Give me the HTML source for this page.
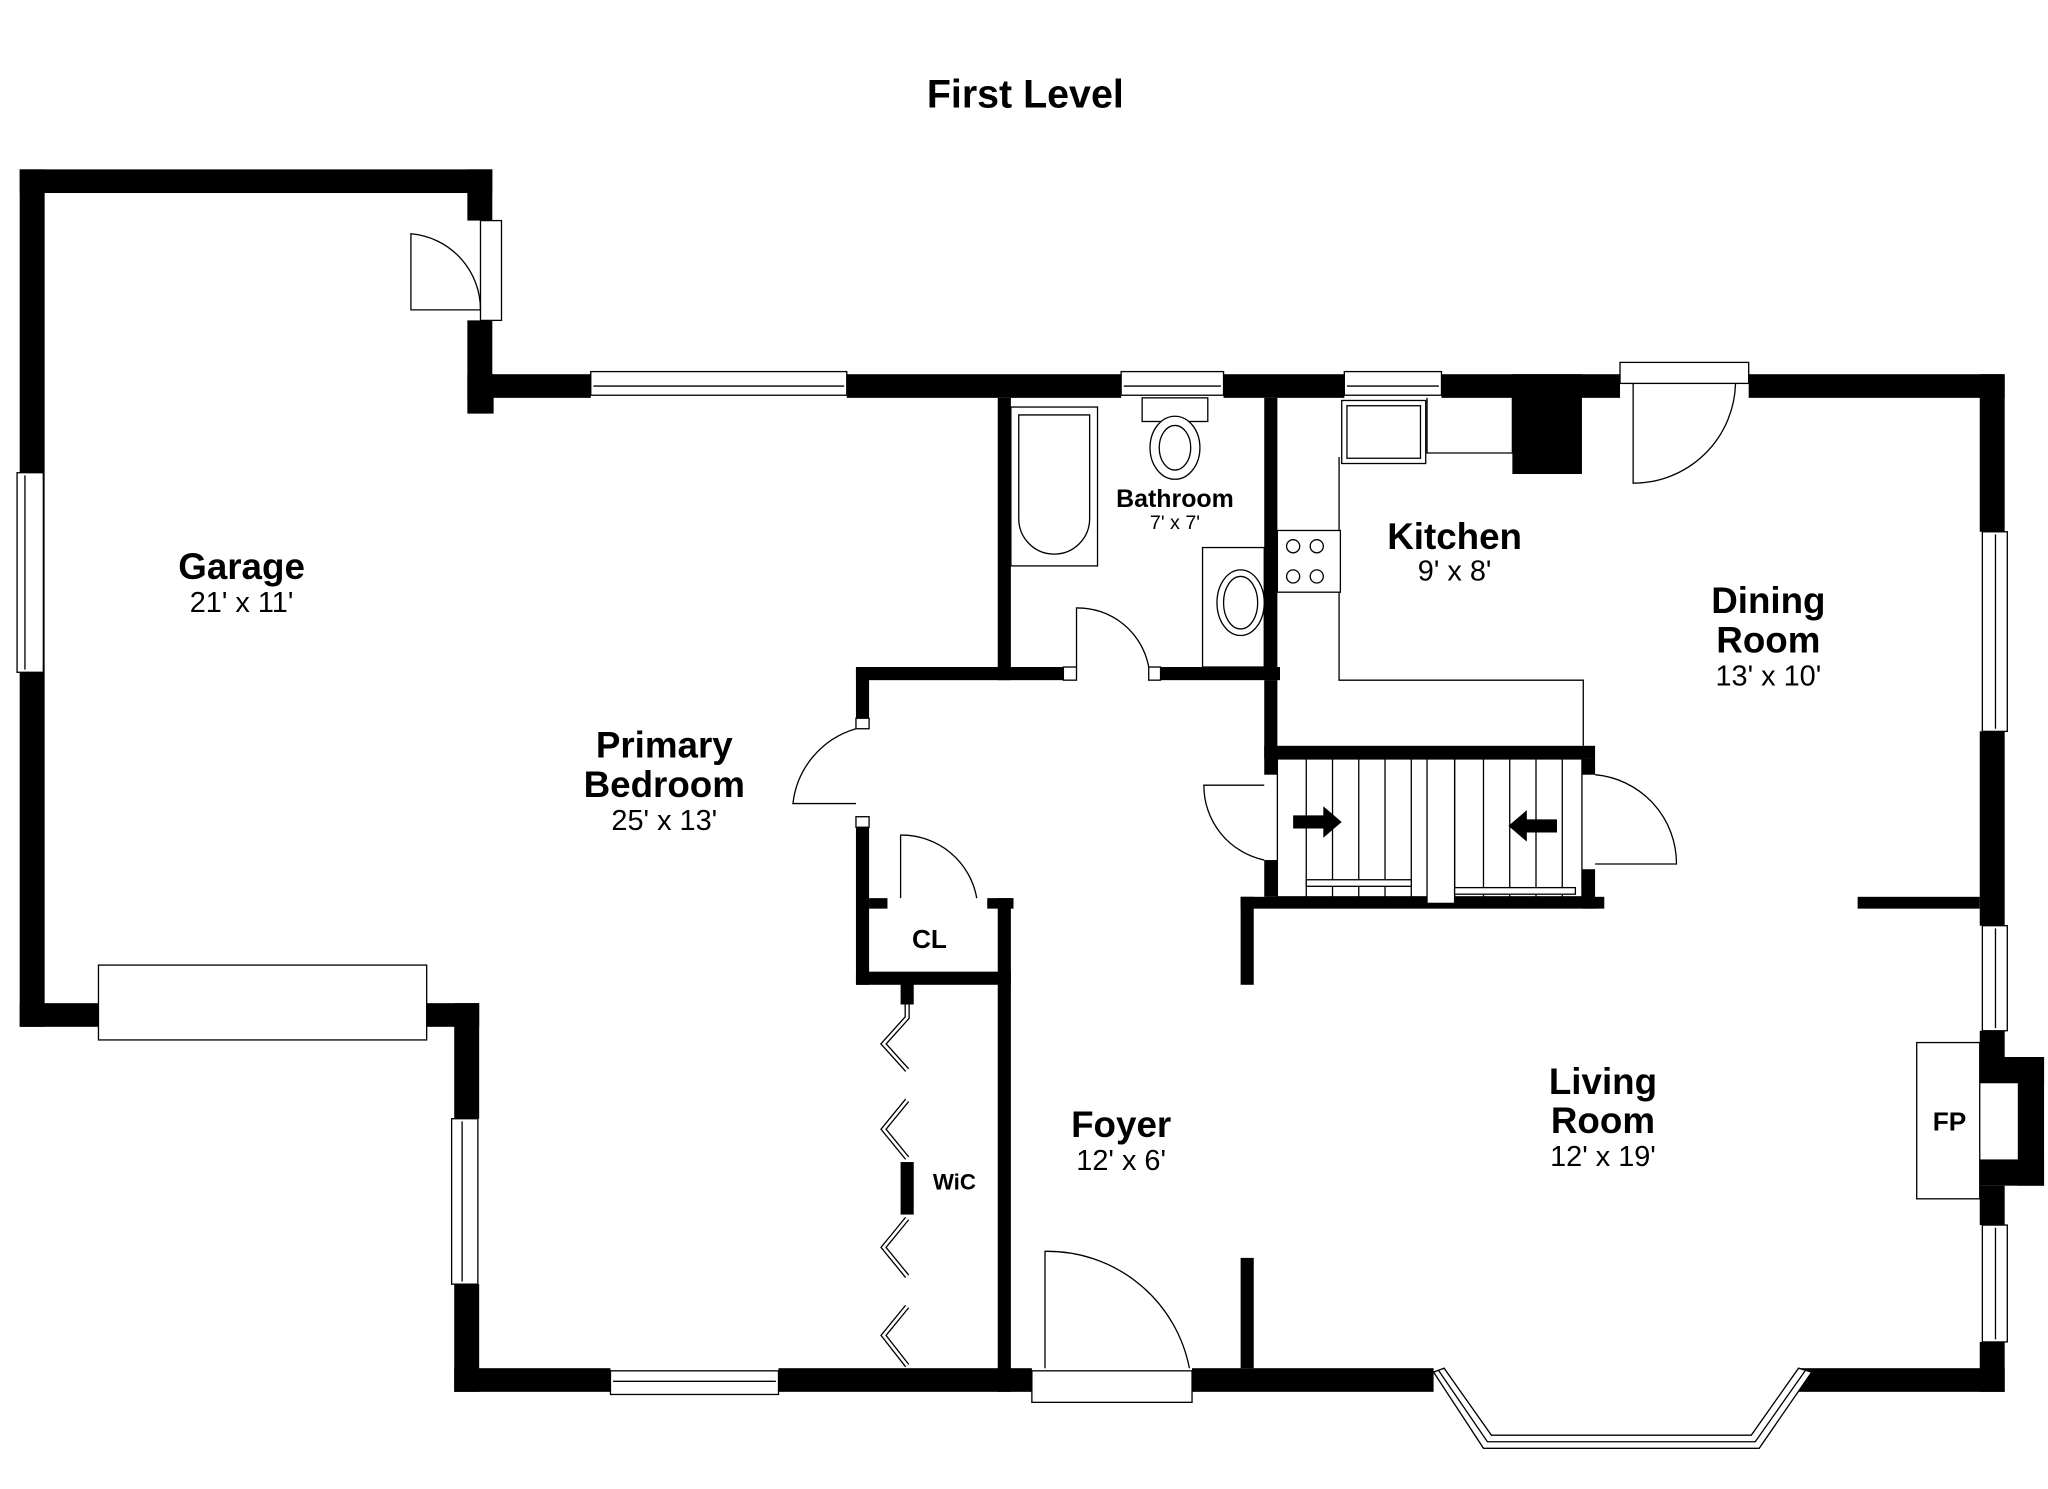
<!DOCTYPE html>
<html><head><meta charset="utf-8"><style>
html,body{margin:0;padding:0;background:#fff;}
svg{display:block;}
text{font-family:"Liberation Sans",Arial,sans-serif;fill:#000;text-anchor:middle;}
.t{font-weight:bold;font-size:28px;}
.d{font-size:22px;}
</style></head><body>
<svg width="2048" height="1489" viewBox="0 0 1560 1134" preserveAspectRatio="none" xmlns="http://www.w3.org/2000/svg">
<rect width="1560" height="1134" fill="#fff"/>
<text x="781" y="82" style="font-weight:bold;font-size:30px">First Level</text>
<g fill="#000">
<!-- garage -->
<rect x="15" y="129" width="360" height="18"/>
<rect x="15" y="129" width="19" height="653"/>
<rect x="356" y="129" width="19" height="39"/>
<rect x="356" y="244" width="19" height="60"/>
<rect x="15" y="764" width="60" height="18"/>
<rect x="325" y="764" width="40" height="18"/>
<!-- main outer -->
<rect x="346" y="764" width="19" height="88"/>
<rect x="346" y="978" width="19" height="82"/>
<rect x="356" y="285" width="20" height="30"/>
<rect x="365" y="285" width="85" height="18"/>
<rect x="645" y="285" width="209" height="18"/>
<rect x="932" y="285" width="92" height="18"/>
<rect x="1098" y="285" width="136" height="18"/>
<rect x="1152" y="285" width="53" height="76"/>
<rect x="1332" y="285" width="195" height="18"/>
<rect x="1508" y="285" width="19" height="120"/>
<rect x="1508" y="557" width="19" height="148"/>
<rect x="1508" y="785" width="19" height="20"/>
<rect x="1508" y="805" width="49" height="20"/>
<rect x="1537" y="805" width="20" height="98"/>
<rect x="1508" y="883" width="49" height="20"/>
<rect x="1508" y="903" width="19" height="30"/>
<rect x="1508" y="1022" width="19" height="38"/>
<rect x="346" y="1042" width="119" height="18"/>
<rect x="593" y="1042" width="193" height="18"/>
<rect x="908" y="1042" width="184" height="18"/>
<rect x="1370" y="1042" width="157" height="18"/>
<!-- interior -->
<rect x="760" y="303" width="10" height="215"/>
<rect x="652" y="508" width="158" height="10"/>
<rect x="884" y="508" width="91" height="10"/>
<rect x="652" y="508" width="10" height="47"/>
<rect x="652" y="622" width="10" height="128"/>
<rect x="652" y="740" width="118" height="10"/>
<rect x="662" y="684" width="14" height="8"/>
<rect x="752" y="684" width="20" height="8"/>
<rect x="760" y="684" width="10" height="376"/>
<rect x="963" y="303" width="10" height="215"/>
<rect x="963" y="518" width="10" height="72"/>
<rect x="963" y="568" width="252" height="10"/>
<rect x="1205" y="578" width="10" height="12"/>
<rect x="963" y="655" width="10" height="28"/>
<rect x="1205" y="662" width="10" height="30"/>
<rect x="945" y="683" width="277" height="9"/>
<rect x="945" y="683" width="10" height="67"/>
<rect x="1415" y="683" width="93" height="9"/>
<rect x="945" y="958" width="10" height="84"/>
<rect x="686" y="745" width="10" height="20"/>
<rect x="686" y="885" width="10" height="40"/>
</g>
<g fill="#fff" stroke="#000" stroke-width="1">
<!-- windows -->
<rect x="13" y="360" width="20" height="152"/>
<line x1="19" y1="362" x2="19" y2="510"/>
<rect x="450" y="283" width="195" height="18"/>
<line x1="452" y1="294" x2="643" y2="294"/>
<rect x="854" y="283" width="78" height="18"/>
<line x1="856" y1="294" x2="930" y2="294"/>
<rect x="1024" y="283" width="74" height="18"/>
<line x1="1026" y1="294" x2="1096" y2="294"/>
<rect x="1510" y="405" width="19" height="152"/>
<line x1="1520" y1="407" x2="1520" y2="555"/>
<rect x="1510" y="705" width="19" height="80"/>
<line x1="1520" y1="707" x2="1520" y2="783"/>
<rect x="1510" y="933" width="19" height="89"/>
<line x1="1520" y1="935" x2="1520" y2="1020"/>
<rect x="344" y="852" width="20" height="126"/>
<line x1="352" y1="854" x2="352" y2="976"/>
<rect x="465" y="1044" width="128" height="18"/>
<line x1="467" y1="1052" x2="591" y2="1052"/>
<!-- garage door -->
<rect x="75" y="735" width="250" height="57"/>
<!-- garage side door -->
<rect x="366" y="168" width="16" height="76"/>
<path d="M366 236 L313 236 L313 178 A58 58 0 0 1 366 236" fill="none"/>
<!-- front door -->
<rect x="786" y="1044" width="122" height="24"/>
<path d="M796 1042 L796 953 A110 110 0 0 1 906 1042" fill="none"/>
<!-- dining door -->
<rect x="1234" y="276" width="98" height="16"/>
<path d="M1244 292 L1244 368 A78 78 0 0 0 1322 292" fill="none"/>
<!-- bay window -->
<polygon points="1092,1045 1130,1103 1340,1103 1380,1045 1370,1042 1334,1093 1136,1093 1100,1042"/>
<polyline points="1096,1044 1133,1098 1337,1098 1375,1044" fill="none"/>
<!-- FP -->
<rect x="1460" y="794" width="48" height="119"/>
<!-- bath fixtures -->
<rect x="770" y="310" width="66" height="121"/>
<path d="M776 316 L830 316 L830 395 A27 27 0 0 1 776 395 Z"/>
<rect x="870" y="303" width="50" height="18"/>
<ellipse cx="895" cy="341" rx="19" ry="24"/>
<ellipse cx="895" cy="341" rx="12" ry="17"/>
<rect x="916" y="417" width="47" height="91"/>
<ellipse cx="945" cy="459" rx="18" ry="25"/>
<ellipse cx="945" cy="459" rx="13" ry="20"/>
<!-- bath door -->
<path d="M820 508 L820 463 A55 55 0 0 1 875 508" fill="none"/>
<rect x="810" y="508" width="10" height="10"/>
<rect x="875" y="508" width="9" height="10"/>
<!-- bedroom door -->
<path d="M652 555 A67 67 0 0 0 604 612 L652 612" fill="none"/>
<rect x="652" y="547" width="10" height="8"/>
<rect x="652" y="622" width="10" height="8"/>
<!-- CL door -->
<path d="M686 684 L686 636 A58 58 0 0 1 744 684" fill="none"/>
<!-- kitchen counters -->
<polyline points="1152,303 1152,345 1087,345 1087,303" fill="none"/>
<rect x="1022" y="305" width="64" height="48"/>
<rect x="1026" y="309" width="56" height="40"/>
<polyline points="1020,348 1020,518 1206,518 1206,568" fill="none"/>
<rect x="973" y="404" width="48" height="47"/>
<circle cx="985" cy="416" r="5"/><circle cx="1003" cy="416" r="5"/>
<circle cx="985" cy="439" r="5"/><circle cx="1003" cy="439" r="5"/>
<!-- stairs -->
<rect x="973" y="578" width="232" height="105"/>
<line x1="995" y1="578" x2="995" y2="683"/>
<line x1="1015" y1="578" x2="1015" y2="683"/>
<line x1="1035" y1="578" x2="1035" y2="683"/>
<line x1="1055" y1="578" x2="1055" y2="683"/>
<line x1="1075" y1="578" x2="1075" y2="683"/>
<line x1="1108" y1="578" x2="1108" y2="683"/>
<line x1="1130" y1="578" x2="1130" y2="683"/>
<line x1="1150" y1="578" x2="1150" y2="683"/>
<line x1="1170" y1="578" x2="1170" y2="683"/>
<line x1="1190" y1="578" x2="1190" y2="683"/>
<rect x="1087" y="578" width="21" height="110"/>
<rect x="995" y="670" width="80" height="5"/>
<rect x="1108" y="676" width="92" height="5"/>
<!-- stair doors -->
<path d="M963 598 L917 598 A58 58 0 0 0 963 655" fill="none"/>
<path d="M1215 590 A68 68 0 0 1 1277 658 L1215 658" fill="none"/>
<!-- WiC bifold -->
<polyline points="691,765 691,775 673,795 691,815" fill="none" stroke-width="4"/>
<polyline points="691,765 691,775 673,795 691,815" fill="none" stroke="#fff" stroke-width="2"/>
<polyline points="691,838 673,860 691,882" fill="none" stroke-width="4"/>
<polyline points="691,838 673,860 691,882" fill="none" stroke="#fff" stroke-width="2"/>
<polyline points="691,928 673,950 691,972" fill="none" stroke-width="4"/>
<polyline points="691,928 673,950 691,972" fill="none" stroke="#fff" stroke-width="2"/>
<polyline points="691,995 673,1017 691,1040" fill="none" stroke-width="4"/>
<polyline points="691,995 673,1017 691,1040" fill="none" stroke="#fff" stroke-width="2"/>
</g>
<g fill="#000">
<path d="M985 621 L1008 621 L1008 614 L1022 626 L1008 638 L1008 631 L985 631 Z"/>
<path d="M1186 624 L1163 624 L1163 617 L1149 629 L1163 641 L1163 634 L1186 634 Z"/>
</g>
<text class="t" x="184" y="441">Garage</text>
<text class="d" x="184" y="466">21' x 11'</text>
<text class="t" x="506" y="577">Primary</text>
<text class="t" x="506" y="607">Bedroom</text>
<text class="d" x="506" y="632">25' x 13'</text>
<text x="895" y="386" style="font-weight:bold;font-size:19px">Bathroom</text>
<text x="895" y="403" style="font-size:15px">7' x 7'</text>
<text class="t" x="1108" y="418">Kitchen</text>
<text class="d" x="1108" y="442">9' x 8'</text>
<text class="t" x="1347" y="467">Dining</text>
<text class="t" x="1347" y="497">Room</text>
<text class="d" x="1347" y="522">13' x 10'</text>
<text x="708" y="722" style="font-weight:bold;font-size:20px">CL</text>
<text x="727" y="906" style="font-weight:bold;font-size:17px">WiC</text>
<text class="t" x="854" y="866">Foyer</text>
<text class="d" x="854" y="891">12' x 6'</text>
<text class="t" x="1221" y="833">Living</text>
<text class="t" x="1221" y="863">Room</text>
<text class="d" x="1221" y="888">12' x 19'</text>
<text x="1485" y="861" style="font-weight:bold;font-size:20px">FP</text>
</svg>
</body></html>
